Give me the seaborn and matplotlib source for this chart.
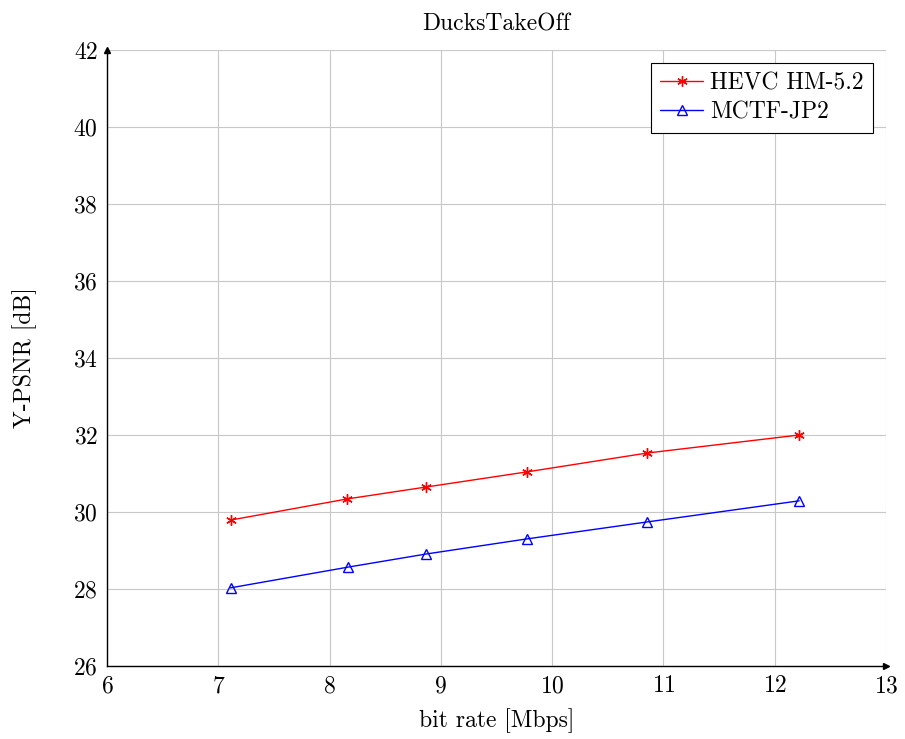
import matplotlib

matplotlib.use("Agg")

import matplotlib.pyplot as plt
import pandas as pd
import seaborn as sns

# data
bitrate_hevc = [7.11, 8.16, 8.87, 9.77, 10.85, 12.22]
psnr_hevc = [29.79, 30.34, 30.65, 31.04, 31.53, 32.00]
bitrate_mctf = [7.11, 8.17, 8.87, 9.77, 10.85, 12.22]
psnr_mctf = [28.03, 28.57, 28.91, 29.30, 29.74, 30.29]
series_names = ["HEVC HM-5.2", "MCTF-JP2"]
x_ticks = [6, 7, 8, 9, 10, 11, 12, 13]
y_ticks = [26, 28, 30, 32, 34, 36, 38, 40, 42]

df = pd.concat(
    [
        pd.DataFrame({"rate": bitrate_hevc, "psnr": psnr_hevc, "codec": series_names[0]}),
        pd.DataFrame({"rate": bitrate_mctf, "psnr": psnr_mctf, "codec": series_names[1]}),
    ],
    ignore_index=True,
)

sns.set_style("white")
plt.rcParams["font.family"] = ["cmr10", "DejaVu Serif"]
plt.rcParams["axes.formatter.use_mathtext"] = True
plt.rcParams["mathtext.fontset"] = "cm"
for key in ["text.color", "axes.labelcolor", "xtick.labelcolor", "ytick.labelcolor"]:
    plt.rcParams[key] = "black"

FS = 17

fig = plt.figure(figsize=(9.05, 7.39), dpi=100)
ax = fig.add_axes([107 / 905, 1 - 666 / 739, (886 - 107) / 905, (666 - 50) / 739])

palette = {series_names[0]: "#ff0000", series_names[1]: "#0000ff"}
sns.lineplot(
    data=df, x="rate", y="psnr", hue="codec", hue_order=series_names,
    palette=palette, sort=False, linewidth=1.0, legend=False, ax=ax,
)
# pgfplots-style marks: asterisk and open triangle
marks = [(6, 2, 0), "^"]
for line, mk, name in zip(ax.lines, marks, series_names):
    line.set_marker(mk)
    line.set_markersize(7.5)
    line.set_markeredgecolor(line.get_color())
    line.set_markerfacecolor("none")
    line.set_markeredgewidth(1.0)
    line.set_label(name)
series_lines = list(ax.lines)

ax.set_xlim(6, 13)
ax.set_ylim(26, 42)
ax.set_xticks(x_ticks)
ax.set_yticks(y_ticks)
ax.set_axisbelow(True)
ax.grid(True, color="#c8c8c8", linewidth=0.8)
ax.tick_params(labelsize=FS, direction="inout", length=5, width=0.6,
               color="#888888", pad=4, labelcolor="black")

for side in ["top", "right"]:
    ax.spines[side].set_visible(False)
for side in ["left", "bottom"]:
    ax.spines[side].set_color("black")
    ax.spines[side].set_linewidth(1.0)
# axis arrow heads
ax.plot(1, 0, ">k", markersize=5, transform=ax.transAxes, clip_on=False)
ax.plot(0, 1, "^k", markersize=5, transform=ax.transAxes, clip_on=False)

ax.set_title("DucksTakeOff", fontsize=FS, pad=14, color="black")
ax.set_xlabel("bit rate [Mbps]", fontsize=FS, labelpad=8, color="black")
ax.set_ylabel("Y-PSNR [dB]", fontsize=FS, labelpad=26, color="black")

leg = ax.legend(handles=series_lines, loc="upper right", fontsize=FS,
                fancybox=False, framealpha=1, edgecolor="black", borderpad=0.4,
                handlelength=1.8, handletextpad=0.3, labelspacing=0.3,
                borderaxespad=0.55)
leg.get_frame().set_linewidth(0.8)

fig.savefig("out.png", dpi=100)
